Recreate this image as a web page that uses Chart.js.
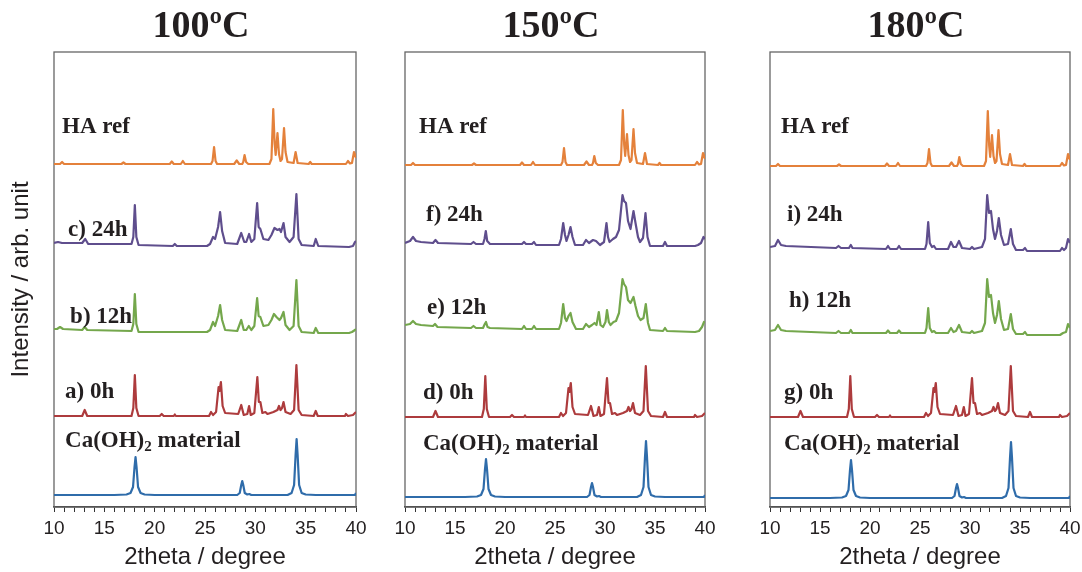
<!DOCTYPE html>
<html>
<head>
<meta charset="utf-8">
<title>XRD patterns</title>
<script src="https://cdn.jsdelivr.net/npm/chart.js@4.4.1/dist/chart.umd.min.js"></script>
<style>
  body { margin: 0; background: #fff; width: 1082px; height: 572px; position: relative; overflow: hidden; }
  canvas { position: absolute; top: 0; }
</style>
</head>
<body>
<canvas id="c100" width="400" height="572" style="left:0px"></canvas>
<canvas id="c150" width="362" height="572" style="left:370px"></canvas>
<canvas id="c180" width="330" height="572" style="left:752px"></canvas>
<script>
// [2theta, intensity above own baseline]
const haRef = [[10,0],[10.6,0],[10.8,2],[11.0,0],[16.7,0],[16.9,1.5],[17.1,0],[21.5,0],[21.7,2.5],[21.9,0],[22.6,0],[22.8,3],[23.0,0],
  [25.6,0],[25.75,3],[25.9,17],[26.05,3],[26.2,0],[27.9,0],[28.15,3.5],[28.4,0],[28.7,0],[28.8,2],[28.93,9],[29.08,2],[29.3,0],
  [31.4,0],[31.6,5],[31.78,55],[31.92,20],[32.02,9],[32.2,31],[32.35,10],[32.5,3],[32.65,5],[32.85,36],[33.0,12],[33.2,2],
  [33.8,1],[34.0,12],[34.2,1],[35.3,0],[35.45,2],[35.6,0],[39.0,0],[39.2,3],[39.4,0.5],[39.6,1],[39.8,12],[39.92,9],[40,6]];

const caOH2 = [[10,0],[16,0],[17.2,0.5],[17.6,2],[17.85,8],[18.0,28],[18.1,38],[18.2,28],[18.35,8],[18.6,2],[19,0.5],[20,0],
  [28.2,0],[28.45,2],[28.6,10],[28.7,14],[28.8,10],[28.95,2],[29.2,0.5],[29.4,1],[29.6,0],
  [33.2,0],[33.6,2],[33.85,10],[34.0,40],[34.1,56],[34.2,40],[34.35,10],[34.6,2],[35,0.5],[36,0],[39.9,0],[40,2]];

const h0 = [[10,0],[12.8,0],[13.05,6],[13.3,0],[17.7,0],[17.88,8],[18.03,41],[18.18,8],[18.4,0],[20.5,0],[20.7,2],[20.9,0],
  [21.9,0],[22.0,1.5],[22.1,0],[25.4,0],[25.6,4],[25.8,1],[26.1,4],[26.35,29],[26.45,25],[26.58,34],[26.75,10],[27.0,3],
  [28.3,2],[28.6,11],[28.85,1],[29.2,2],[29.38,10],[29.55,1],[29.9,3],[30.2,39],[30.35,14],[30.5,14],[30.7,3],[31.0,4],[31.2,2],
  [31.8,4],[32.2,6],[32.35,10],[32.5,6],[32.65,8],[32.8,14],[33.0,4],[33.5,2],[33.85,6],[34.08,51],[34.3,6],[34.6,1],
  [35.8,0],[36.0,5],[36.2,0],[38.9,0],[39.0,2],[39.2,0],[39.7,1],[40,4]];

const h24_100 = [[10,2],[10.4,3],[10.8,2],[12.8,2],[13.1,6],[13.4,1],[17.7,1],[17.88,8],[18.03,40],[18.18,8],[18.4,0],
  [21.8,-1],[22.0,1],[22.2,-1],[25.2,-1],[25.5,1],[25.8,8],[26.0,6],[26.3,18],[26.5,33],[26.7,14],[27.0,2],
  [28.2,1],[28.6,12],[28.9,3],[29.1,3],[29.38,11],[29.6,3],[29.9,6],[30.18,42],[30.33,18],[30.5,16],[30.8,6],[31.3,5],
  [31.6,10],[31.9,17],[32.2,15],[32.4,16],[32.55,13],[32.8,22],[33.0,8],[33.4,3],[33.8,8],[34.08,51],[34.3,6],[34.6,0],
  [35.8,-1],[36.0,6],[36.25,-1],[39.3,-2],[39.7,-1],[39.9,3],[40,4]];

const h12_100 = [[10,3],[10.3,3],[10.6,5],[10.9,3],[12.8,2],[13.05,5],[13.3,2],[17.7,1],[17.88,8],[18.03,38],[18.18,8],[18.4,0],
  [22.0,0],[25.2,0],[25.5,2],[25.8,10],[26.0,6],[26.3,16],[26.5,27],[26.7,12],[27.0,2],[28.2,1],[28.6,12],[28.85,2],
  [29.1,2],[29.35,6],[29.6,2],[29.9,6],[30.18,34],[30.33,16],[30.5,15],[30.8,6],[31.3,7],[31.6,12],[31.85,18],[32.1,15],
  [32.4,12],[32.55,14],[32.8,20],[33.0,7],[33.4,2],[33.8,6],[34.08,52],[34.3,6],[34.6,0],[35.8,-1],[36.0,4],[36.25,-1],
  [39.3,-1],[39.6,0],[39.9,2],[40,3]];

const h24_150 = [[10,2],[10.5,4],[10.8,8],[11.1,4],[11.6,3],[12.8,2],[13.05,5],[13.3,2],[16.6,1],[16.85,3],[17.1,1],[17.8,1],
  [17.95,6],[18.08,14],[18.22,4],[18.5,1],[21.7,1],[21.9,3],[22.1,1],[22.7,1],[22.9,3],[23.1,0],[25.4,0],[25.6,6],[25.82,22],
  [26.0,10],[26.15,4],[26.35,10],[26.55,18],[26.75,8],[27.0,0],[27.8,0],[28.1,5],[28.4,2],[28.8,5],[29.1,4],[29.5,0],[29.9,3],
  [30.15,22],[30.3,8],[30.45,3],[30.8,6],[31.1,8],[31.4,15],[31.75,50],[31.9,44],[32.1,42],[32.3,24],[32.55,16],[32.85,34],
  [33.05,22],[33.3,8],[33.5,3],[33.8,7],[34.05,32],[34.25,8],[34.5,-1],[35.8,-1],[36.0,3],[36.2,-1],[39.0,-1],[39.3,0],
  [39.6,2],[39.85,8],[40,6]];

const h12_150 = [[10,3],[10.5,4],[10.8,7],[11.1,4],[11.6,3],[12.8,2],[13.0,4],[13.25,1],[16.6,0],[16.85,2],[17.1,0],[17.8,0],
  [17.98,4],[18.1,6],[18.25,1],[18.5,0],[21.7,-1],[21.9,2],[22.1,-1],[22.7,-1],[22.9,2],[23.1,-1],[25.4,-1],[25.6,5],[25.82,24],
  [26.0,10],[26.15,7],[26.35,12],[26.55,15],[26.75,6],[27.1,-1],[27.8,-1],[28.1,4],[28.4,1],[28.7,3],[28.95,5],[29.15,3],
  [29.38,16],[29.55,3],[29.8,1],[30.05,6],[30.2,18],[30.38,6],[30.55,3],[30.85,6],[31.1,7],[31.4,15],[31.75,49],[31.9,44],
  [32.1,41],[32.3,28],[32.55,25],[32.85,31],[33.05,22],[33.3,12],[33.55,8],[33.85,10],[34.08,24],[34.3,5],[34.5,-2],
  [35.8,-3],[36.0,0],[36.2,-3],[39.0,-4],[39.4,-3],[39.7,1],[39.9,6],[40,5]];

const h24_180 = [[10,2],[10.5,3],[10.8,9],[11.1,4],[11.6,3],[16.6,1],[16.85,3],[17.1,1],[17.9,1],[18.08,4],[18.25,1],
  [21.6,0],[21.8,3],[22.0,0],[22.7,0],[22.9,3],[23.1,0],[25.5,0],[25.65,5],[25.82,27],[25.98,6],[26.2,2],[26.4,3],[26.6,0],
  [27.8,0],[28.1,7],[28.35,2],[28.6,2],[28.9,8],[29.2,1],[30.0,0],[30.2,2],[30.4,0],[31.2,2],[31.5,10],[31.72,54],[31.9,36],
  [32.1,38],[32.3,20],[32.5,10],[32.7,18],[32.88,31],[33.1,14],[33.4,4],[33.8,5],[34.08,20],[34.3,5],[34.6,-1],[35.3,-1],
  [35.5,1],[35.7,-2],[39.0,-2],[39.2,1],[39.4,-1],[39.6,1],[39.8,10],[39.92,8],[40,6]];

const h12_180 = [[10,2],[10.5,3],[10.8,8],[11.1,3],[11.6,2],[16.6,0],[16.85,2],[17.1,0],[17.9,0],[18.08,3],[18.25,0],
  [21.6,0],[21.8,2.5],[22.0,0],[22.7,0],[22.9,2.5],[23.1,0],[25.5,0],[25.65,5],[25.82,25],[25.98,5],[26.2,1],[26.4,2],[26.6,0],
  [27.8,0],[28.1,5],[28.35,1],[28.6,2],[28.9,8],[29.2,1],[30.0,0],[30.2,2],[30.4,0],[31.2,2],[31.5,10],[31.72,54],[31.9,36],
  [32.1,38],[32.3,20],[32.5,10],[32.7,18],[32.88,32],[33.1,14],[33.4,3],[33.8,4],[34.08,19],[34.3,4],[34.6,-1],[35.3,-1],
  [35.5,1],[35.7,-2],[39.0,-2],[39.3,0],[39.6,1],[39.8,9],[39.92,7],[40,5]];

// stacking offsets, top to bottom: HA ref, 24h, 12h, 0h, Ca(OH)2
const offsets100 = [343, 262, 175, 91, 12];
const offsets150 = [342, 262, 179, 90, 10];
const offsets180 = [341, 258, 174, 90, 9];

const labels100 = ['HA ref', 'c) 24h', 'b) 12h', 'a) 0h', 'Ca(OH)2 material'];
const labels150 = ['HA ref', 'f) 24h', 'e) 12h', 'd) 0h', 'Ca(OH)2 material'];
const labels180 = ['HA ref', 'i) 24h', 'h) 12h', 'g) 0h', 'Ca(OH)2 material'];

const xTicks = [10, 15, 20, 25, 30, 35, 40];
const lineColors = ['#e4813b', '#5f4e8d', '#74a74c', '#ad3b3d', '#2f6caa'];

// where the text labels sit, in data units [2theta, y]
const labelPos100 = [[10.8, 380], [11.4, 277], [11.6, 190], [11.1, 115], [11.1, 66]];
const labelPos150 = [[11.4, 380], [12.1, 292], [12.2, 199], [11.8, 114], [11.8, 63]];
const labelPos180 = [[11.1, 380], [11.7, 292], [11.9, 206], [11.4, 114], [11.4, 63]];

const ink = '#231f20';
const sans = "'Liberation Sans', Arial, sans-serif";
const serif = "'Liberation Serif', 'Times New Roman', serif";

// panel title, box around plot, and the in-plot labels
const panelDecor = {
  id: 'panelDecor',
  beforeDatasetsDraw(chart, args, opts) {
    const { ctx, chartArea: a } = chart;
    ctx.save();
    ctx.strokeStyle = '#666';
    ctx.lineWidth = 1.3;
    ctx.strokeRect(a.left, a.top, a.right - a.left, a.bottom - a.top);
    // title a bit left of the plot centre, like the original
    ctx.fillStyle = ink;
    ctx.font = 'bold 38px ' + serif;
    ctx.textAlign = 'center';
    ctx.textBaseline = 'middle';
    ctx.fillText(opts.title, (a.left + a.right) / 2 - 4, 27);
    ctx.restore();
  },
  afterDatasetsDraw(chart, args, opts) {
    const { ctx } = chart;
    const xs = chart.scales.x, ys = chart.scales.y;
    ctx.save();
    ctx.fillStyle = ink;
    ctx.textBaseline = 'middle';
    ctx.textAlign = 'left';
    opts.texts.forEach((t, i) => {
      let px = xs.getPixelForValue(opts.pos[i][0]);
      const py = ys.getPixelForValue(opts.pos[i][1]);
      ctx.font = 'bold 23px ' + serif;
      if (t.startsWith('Ca(OH)2')) {
        ctx.fillText('Ca(OH)', px, py);
        px += ctx.measureText('Ca(OH)').width;
        ctx.font = 'bold 15px ' + serif;
        ctx.fillText('2', px, py + 6);
        px += ctx.measureText('2').width;
        ctx.font = 'bold 23px ' + serif;
        ctx.fillText(' material', px, py);
      } else {
        ctx.fillText(t, px, py);
      }
    });
    ctx.restore();
  }
};

function makePanel(id, title, traces, offsets, texts, pos, yWidth, padRight, showYTitle) {
  const datasets = traces.map((tr, i) => ({
    data: tr.map(p => ({ x: p[0], y: p[1] + offsets[i] })),
    borderColor: lineColors[i],
    borderWidth: 2.2,
    borderJoinStyle: 'round',
    pointRadius: 0,
    tension: 0,
    fill: false
  }));
  return new Chart(document.getElementById(id), {
    type: 'line',
    data: { datasets: datasets },
    options: {
      responsive: false,
      animation: false,
      devicePixelRatio: 1,
      layout: { padding: { left: 0, right: padRight, top: 52, bottom: 0 } },
      plugins: {
        legend: { display: false },
        tooltip: { enabled: false },
        title: { display: false },
        panelDecor: { title: title, texts: texts, pos: pos }
      },
      scales: {
        x: {
          type: 'linear',
          min: 10,
          max: 40,
          border: { display: true, color: '#333', width: 1.5 },
          grid: { display: true, drawOnChartArea: false, drawTicks: true, tickLength: 5, color: '#333', lineWidth: 1 },
          ticks: {
            stepSize: 1,
            autoSkip: false,
            maxRotation: 0,
            padding: 5,
            color: ink,
            font: { family: sans, size: 19 },
            callback: v => xTicks.includes(v) ? String(v) : ''
          },
          title: {
            display: true,
            text: '2theta / degree',
            color: ink,
            font: { family: sans, size: 24 },
            padding: { top: 0, bottom: 0 }
          },
          afterFit(scale) {
            scale.height = 65;
            scale.paddingLeft = 0;
            scale.paddingRight = 0;
          }
        },
        y: {
          min: 0,
          max: 455,
          border: { display: false },
          grid: { display: false },
          ticks: { display: false },
          title: {
            display: showYTitle,
            text: 'Intensity / arb. unit',
            color: ink,
            font: { family: sans, size: 24 },
            padding: { top: 7, bottom: 0 }
          },
          afterFit(scale) {
            scale.width = yWidth;
          }
        }
      }
    },
    plugins: [panelDecor]
  });
}

makePanel('c100', '100ºC', [haRef, h24_100, h12_100, h0, caOH2], offsets100, labels100, labelPos100, 54, 44, true);
makePanel('c150', '150ºC', [haRef, h24_150, h12_150, h0, caOH2], offsets150, labels150, labelPos150, 35, 27, false);
makePanel('c180', '180ºC', [haRef, h24_180, h12_180, h0, caOH2], offsets180, labels180, labelPos180, 18, 12, false);
</script>
</body>
</html>
